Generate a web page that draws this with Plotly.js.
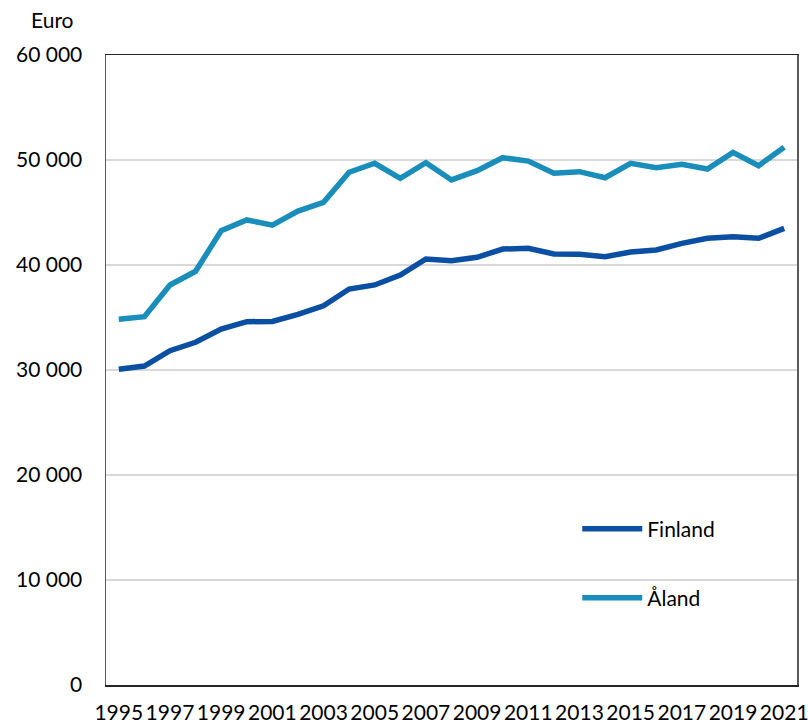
<!DOCTYPE html>
<html>
<head>
<meta charset="utf-8">
<script src="https://cdn.plot.ly/plotly-3.0.1.min.js"></script>
<style>html,body{margin:0;padding:0;background:#fff;}#chart{width:808px;height:725px;}</style>
</head>
<body>
<div id="chart"></div>
<script>
const years = [1995,1996,1997,1998,1999,2000,2001,2002,2003,2004,2005,2006,2007,2008,2009,2010,2011,2012,2013,2014,2015,2016,2017,2018,2019,2020,2021];
const finland = [30070,30380,31840,32640,33900,34600,34620,35300,36120,37710,38100,39050,40570,40410,40730,41520,41590,41050,41020,40790,41240,41430,42060,42540,42700,42540,43490];
const aland = [34830,35080,38100,39400,43270,44290,43800,45140,45970,48830,49690,48260,49740,48100,48980,50220,49900,48730,48890,48310,49690,49270,49590,49140,50730,49460,51210];
const yearTicks = [1995,1997,1999,2001,2003,2005,2007,2009,2011,2013,2015,2017,2019,2021];
const yTicks = [0,10000,20000,30000,40000,50000,60000];

const font = "Lato, 'Open Sans', sans-serif";
const traces = [
  {x: years, y: finland, name: 'Finland', type: 'scatter', mode: 'lines',
   line: {color: '#0A4FA2', width: 5.5}, legend: 'legend'},
  {x: years, y: aland, name: 'Åland', type: 'scatter', mode: 'lines',
   line: {color: '#1A8EBA', width: 5.5}, legend: 'legend2'}
];
const legendBase = {
  xref: 'paper', yref: 'paper', xanchor: 'left', yanchor: 'middle',
  bgcolor: 'rgba(0,0,0,0)', font: {family: font, size: 21, color: '#000'},
  itemwidth: 60, borderwidth: 0
};
const layout = {
  width: 808, height: 725,
  margin: {l: 106, r: 11, t: 55, b: 40},
  paper_bgcolor: '#fff', plot_bgcolor: '#fff',
  separators: '. ',
  showlegend: true,
  font: {family: font, size: 21, color: '#000'},
  xaxis: {
    range: [1994.5, 2021.5], tickmode: 'array', tickvals: yearTicks,
    ticktext: yearTicks.map(String), ticklabeloverflow: 'allow',
    showgrid: false, zeroline: false, ticks: '', ticklabelstandoff: 8,
    showline: true, linecolor: '#262626', linewidth: 1.5, mirror: true,
    tickfont: {family: font, size: 21, color: '#000'}, fixedrange: true
  },
  yaxis: {
    range: [0, 60000], tickmode: 'array', tickvals: yTicks, tickformat: ',d',
    showgrid: true, gridcolor: '#d9d9d9', gridwidth: 1.5, zeroline: false,
    ticks: '', ticklabelstandoff: 18,
    showline: true, linecolor: '#595959', linewidth: 1.5, mirror: true,
    tickfont: {family: font, size: 21, color: '#000'}, fixedrange: true
  },
  legend: Object.assign({}, legendBase, {x: 0.682, y: (685-529)/630}),
  legend2: Object.assign({}, legendBase, {x: 0.682, y: (685-598)/630}),
  annotations: [{
    text: 'Euro', xref: 'paper', yref: 'paper', x: (52.5-106)/691, y: (685-19.5)/630,
    xanchor: 'center', yanchor: 'middle', showarrow: false,
    font: {family: font, size: 21, color: '#000'}
  }]
};
Plotly.newPlot('chart', traces, layout, {staticPlot: true, displayModeBar: false});
</script>
</body>
</html>
